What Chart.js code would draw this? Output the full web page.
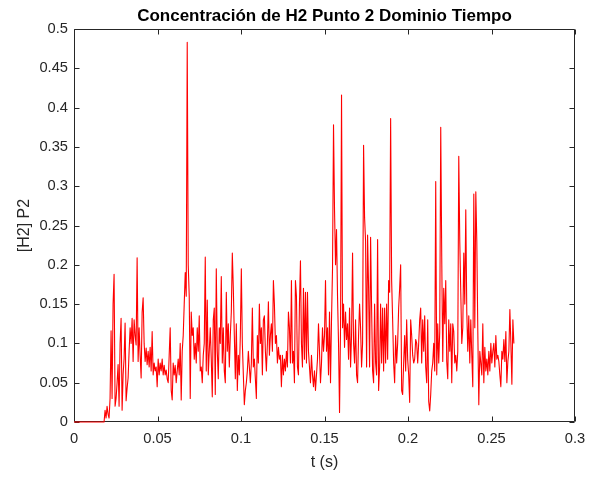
<!DOCTYPE html>
<html>
<head>
<meta charset="utf-8">
<script src="https://cdn.jsdelivr.net/npm/chart.js@4"></script>
<style>
  html, body { margin: 0; padding: 0; background: #fff; }
  canvas { display: block; }
</style>
</head>
<body>
<canvas id="c" width="595" height="478"></canvas>
<script>
// Texts
const TITLE = 'Concentración de H2 Punto 2 Dominio Tiempo';
const X_LABEL = 't (s)';
const Y_LABEL = '[H2] P2';

// Tick positions and their labels
const X_TICKS = [0, 0.05, 0.1, 0.15, 0.2, 0.25, 0.3];
const X_TICK_LABELS = ['0', '0.05', '0.1', '0.15', '0.2', '0.25', '0.3'];
const Y_TICKS = [0, 0.05, 0.1, 0.15, 0.2, 0.25, 0.3, 0.35, 0.4, 0.45, 0.5];
const Y_TICK_LABELS = ['0', '0.05', '0.1', '0.15', '0.2', '0.25', '0.3', '0.35', '0.4', '0.45', '0.5'];

// Sampling: the signal is zero until ONSET_T, then one sample every DT seconds
const ONSET_T = 0.018;
const DT = 0.0006;

// H2 concentration at point 2, from ONSET_T onwards
const H2_P2 = [
  0.0, 0.015, 0.005, 0.02, 0.01, 0.005, 0.03, 0.116, 0.03, 0.15,
  0.188, 0.02, 0.03, 0.05, 0.073, 0.02, 0.1, 0.132, 0.015, 0.06,
  0.081, 0.126, 0.027, 0.043, 0.056, 0.09, 0.12, 0.1, 0.132, 0.077,
  0.13, 0.11, 0.098, 0.209, 0.077, 0.12, 0.085, 0.056, 0.14, 0.158,
  0.1, 0.077, 0.094, 0.073,

  0.09, 0.07, 0.095, 0.065, 0.115, 0.06, 0.075, 0.065, 0.07, 0.045,
  0.08, 0.06, 0.075, 0.065, 0.08, 0.06, 0.072, 0.06, 0.066, 0.055,
  0.05, 0.085, 0.12, 0.04, 0.028, 0.075, 0.06, 0.072, 0.05, 0.065,
  0.08, 0.06, 0.1, 0.028, 0.09, 0.11, 0.15, 0.19, 0.16, 0.483,
  0.2, 0.16, 0.03, 0.14, 0.11, 0.12, 0.08, 0.1, 0.075, 0.12,
  0.09, 0.135, 0.065,

  0.07, 0.05, 0.085, 0.1, 0.21, 0.065, 0.155, 0.06, 0.09, 0.12,
  0.08, 0.032, 0.13, 0.145, 0.035, 0.195, 0.09, 0.055, 0.12, 0.1,
  0.185, 0.075, 0.12, 0.065, 0.05, 0.165, 0.09, 0.125, 0.07, 0.11,
  0.14, 0.215, 0.17, 0.11, 0.055, 0.125, 0.04, 0.085, 0.06, 0.11,
  0.195, 0.1, 0.06, 0.022, 0.04, 0.05, 0.065, 0.09, 0.07, 0.05,
  0.075, 0.145, 0.07,

  0.08, 0.055, 0.03, 0.11, 0.075, 0.15, 0.1, 0.12, 0.06, 0.13,
  0.135, 0.09, 0.065, 0.1, 0.153, 0.085, 0.11, 0.125, 0.09, 0.18,
  0.15, 0.1, 0.11, 0.075, 0.095, 0.08, 0.085, 0.045, 0.085, 0.06,
  0.08, 0.065, 0.09, 0.07, 0.14, 0.12, 0.075, 0.18, 0.075, 0.09,
  0.05, 0.18, 0.16, 0.07, 0.06, 0.15, 0.205, 0.1, 0.07, 0.17,
  0.08, 0.165, 0.075,

  0.165, 0.09, 0.07, 0.05, 0.085, 0.06, 0.045, 0.065, 0.04, 0.06,
  0.08, 0.125, 0.09, 0.05, 0.075, 0.12, 0.09, 0.11, 0.18, 0.09,
  0.12, 0.06, 0.14, 0.05, 0.13, 0.195, 0.378, 0.27, 0.2, 0.245,
  0.16, 0.1, 0.012, 0.12, 0.416, 0.12, 0.15, 0.095, 0.14, 0.105,
  0.125, 0.08, 0.145, 0.07, 0.11, 0.215, 0.1, 0.075, 0.13, 0.06,
  0.05, 0.11, 0.15,

  0.12, 0.07, 0.1, 0.352, 0.26, 0.23, 0.07, 0.238, 0.17, 0.07,
  0.235, 0.145, 0.065, 0.05, 0.15, 0.075, 0.06, 0.232, 0.04, 0.07,
  0.15, 0.075, 0.145, 0.065, 0.145, 0.075, 0.15, 0.08, 0.18, 0.165,
  0.386, 0.18, 0.13, 0.075, 0.05, 0.11, 0.075, 0.1, 0.145, 0.17,
  0.2, 0.04, 0.035, 0.075, 0.11, 0.065, 0.13, 0.08, 0.06, 0.025,
  0.13, 0.11, 0.085,

  0.075, 0.08, 0.105, 0.1, 0.075, 0.1, 0.13, 0.145, 0.075, 0.13,
  0.09, 0.135, 0.07, 0.05, 0.13, 0.026, 0.014, 0.035, 0.065, 0.075,
  0.1, 0.065, 0.306, 0.06, 0.125, 0.075, 0.115, 0.375, 0.21, 0.077,
  0.17, 0.125, 0.18, 0.077, 0.055, 0.13, 0.09, 0.125, 0.05, 0.125,
  0.115, 0.075, 0.085, 0.065, 0.09, 0.338, 0.23, 0.165, 0.1, 0.12,
  0.215, 0.15, 0.27,

  0.14, 0.09, 0.135, 0.075, 0.13, 0.085, 0.045, 0.29, 0.12, 0.293,
  0.23, 0.115, 0.022, 0.09, 0.075, 0.06, 0.125, 0.05, 0.095, 0.065,
  0.08, 0.06, 0.09, 0.065, 0.1, 0.075, 0.09, 0.1, 0.07, 0.11,
  0.08, 0.085, 0.077, 0.06, 0.045, 0.09, 0.08, 0.105, 0.077, 0.115,
  0.05, 0.077, 0.09, 0.143, 0.1, 0.048, 0.13, 0.1
];

// Zero baseline before onset, then the sampled signal
const points = [{ x: 0, y: 0 }].concat(
  H2_P2.map((v, i) => ({ x: ONSET_T + i * DT, y: v }))
);

const FONT = '"Liberation Sans", Arial, Helvetica, sans-serif';
const AXIS_COLOR = '#262626';
const TICK_LEN = 5;

// Box around the plot with inward tick marks on all four sides
const boxTicks = {
  id: 'boxTicks',
  beforeDatasetsDraw(chart) {
    const { ctx, chartArea: a, scales } = chart;
    const L = Math.round(a.left) + 0.5;
    const R = Math.round(a.right) - 0.5;
    const T = Math.round(a.top) + 0.5;
    const B = Math.round(a.bottom) - 0.5;
    ctx.save();
    ctx.strokeStyle = AXIS_COLOR;
    ctx.lineWidth = 1;
    ctx.beginPath();
    ctx.rect(L, T, R - L, B - T);
    X_TICKS.forEach(v => {
      const px = Math.round(scales.x.getPixelForValue(v)) + 0.5;
      ctx.moveTo(px, B); ctx.lineTo(px, B - TICK_LEN);
      ctx.moveTo(px, T); ctx.lineTo(px, T + TICK_LEN);
    });
    Y_TICKS.forEach(v => {
      const py = Math.round(scales.y.getPixelForValue(v)) + 0.5;
      ctx.moveTo(L, py); ctx.lineTo(L + TICK_LEN, py);
      ctx.moveTo(R, py); ctx.lineTo(R - TICK_LEN, py);
    });
    ctx.stroke();
    ctx.restore();
  }
};

new Chart(document.getElementById('c'), {
  type: 'scatter',
  data: {
    datasets: [{
      data: points,
      showLine: true,
      borderColor: '#ff0000',
      backgroundColor: '#ff0000',
      borderWidth: 1.1,
      borderJoinStyle: 'round',
      pointRadius: 0,
      pointHoverRadius: 0,
      tension: 0,
      clip: 2
    }]
  },
  options: {
    responsive: false,
    animation: false,
    devicePixelRatio: 1,
    layout: { padding: { left: 0, right: 20, top: 0, bottom: 0 } },
    plugins: {
      legend: { display: false },
      tooltip: { enabled: false },
      title: {
        display: true,
        text: TITLE,
        fullSize: false,
        color: '#000',
        font: { family: FONT, size: 17, weight: 'bold' },
        padding: { top: 5.8, bottom: 2.8 }
      }
    },
    scales: {
      x: {
        type: 'linear',
        min: 0,
        max: 0.3,
        afterBuildTicks: s => { s.ticks = X_TICKS.map(v => ({ value: v })); },
        afterFit: s => { s.height = 56; },
        grid: { display: false, drawTicks: false },
        border: { display: false },
        ticks: {
          color: AXIS_COLOR,
          padding: 8,
          maxRotation: 0,
          font: { family: FONT, size: 14.7 },
          callback: (v, i) => X_TICK_LABELS[i]
        },
        title: {
          display: true,
          text: X_LABEL,
          color: AXIS_COLOR,
          font: { family: FONT, size: 16 },
          padding: { top: 0, bottom: 5.4 }
        }
      },
      y: {
        type: 'linear',
        min: 0,
        max: 0.5,
        afterBuildTicks: s => { s.ticks = Y_TICKS.map(v => ({ value: v })); },
        afterFit: s => { s.width = 74; },
        grid: { display: false, drawTicks: false },
        border: { display: false },
        ticks: {
          color: AXIS_COLOR,
          padding: 6,
          font: { family: FONT, size: 14.7 },
          callback: (v, i) => Y_TICK_LABELS[i]
        },
        title: {
          display: true,
          text: Y_LABEL,
          color: AXIS_COLOR,
          font: { family: FONT, size: 16 },
          padding: { top: 15.4, bottom: 0 }
        }
      }
    }
  },
  plugins: [boxTicks]
});
</script>
</body>
</html>
